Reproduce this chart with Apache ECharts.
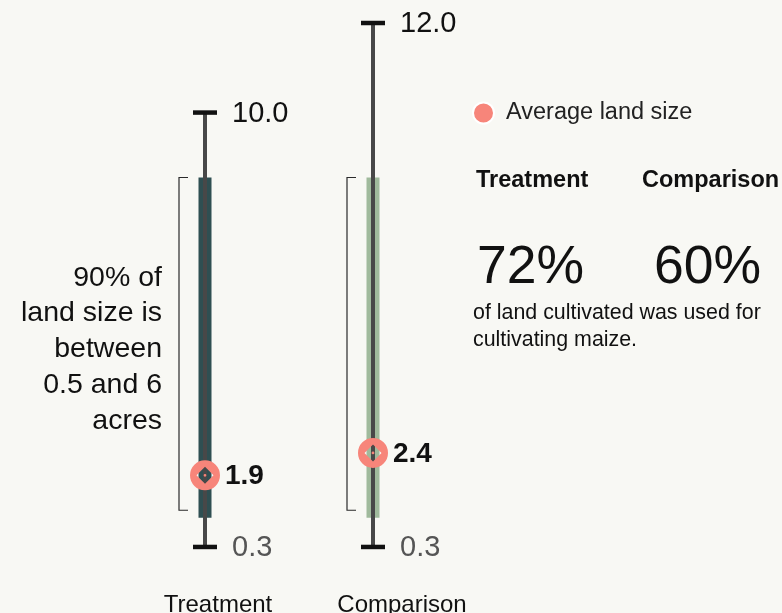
<!DOCTYPE html>
<html>
<head>
<meta charset="utf-8">
<script src="https://cdn.jsdelivr.net/npm/echarts@6/dist/echarts.min.js"></script>
<style>
html,body{margin:0;padding:0;background:#f8f8f4;}
#chart{width:782px;height:613px;}
</style>
</head>
<body>
<div id="chart"></div>
<script>
// ---- data ----
const categories = ['Treatment', 'Comparison'];
const rangeMin = [0.3, 0.3];
const rangeMax = [10.0, 12.0];
const band90Low = [0.95, 0.95];
const band90High = [8.55, 8.55];
const bracketLow = [1.12, 1.12];
const bracketHigh = [8.55, 8.55];
const averages = [1.9, 2.4];
const maizeShare = ['72%', '60%'];
const legendName = 'Average land size';
const noteText = '90% of\nland size is\nbetween\n0.5 and 6\nacres';
const maizeNote = 'of land cultivated was used for\ncultivating maize.';

// ---- styles ----
const barColors = ['#2f4f52', '#a0ba9c'];
const markerColor = '#f7857a';
const FONT = '"Liberation Sans", Arial, sans-serif';
// ring marker: circle with a diamond hole and a tiny centre dot
const ringSymbol = 'path://M0,-15A15,15 0 1,1 0,15A15,15 0 1,1 0,-15Z' +
  'M0,-8.5L-8.5,0L0,8.5L8.5,0Z' +
  'M0,-1.4A1.4,1.4 0 1,1 0,1.4A1.4,1.4 0 1,1 0,-1.4Z';

const rangeData = categories.map((c, i) => [i, rangeMin[i], rangeMax[i], band90Low[i], band90High[i], bracketLow[i], bracketHigh[i]]);
const avgData = categories.map((c, i) => [i, averages[i]]);

function renderRange(params, api) {
  const i = api.value(0);
  const pLo = api.coord([i, api.value(1)]);
  const x = pLo[0];
  const yLo = pLo[1];
  const yHi = api.coord([i, api.value(2)])[1];
  const yBLo = api.coord([i, api.value(3)])[1];
  const yBHi = api.coord([i, api.value(4)])[1];
  const yBrLo = api.coord([i, api.value(5)])[1];
  const yBrHi = api.coord([i, api.value(6)])[1];
  return {
    type: 'group',
    children: [
      { type: 'polyline', shape: { points: [[x - 17, yBrHi], [x - 26, yBrHi], [x - 26, yBrLo], [x - 17, yBrLo]] },
        style: { stroke: '#2a2a2a', lineWidth: 1.2, fill: null } },
      { type: 'rect', shape: { x: x - 6.5, y: yBHi, width: 13, height: yBLo - yBHi },
        style: { fill: barColors[i] } },
      { type: 'line', shape: { x1: x, y1: yHi, x2: x, y2: yLo },
        style: { stroke: '#484848', lineWidth: 4 } },
      { type: 'rect', shape: { x: x - 12, y: yHi - 2.25, width: 24, height: 4.5 }, style: { fill: '#111' } },
      { type: 'rect', shape: { x: x - 12, y: yLo - 2.25, width: 24, height: 4.5 }, style: { fill: '#111' } },
      { type: 'text', style: { text: api.value(2).toFixed(1), x: x + 27, y: yHi + 1, verticalAlign: 'middle', align: 'left',
        font: '29px ' + FONT, fill: '#111' } },
      { type: 'text', style: { text: api.value(1).toFixed(1), x: x + 27, y: yLo + 1, verticalAlign: 'middle', align: 'left',
        font: '29px ' + FONT, fill: '#555' } }
    ]
  };
}

const chart = echarts.init(document.getElementById('chart'));
chart.setOption({
  backgroundColor: '#f8f8f4',
  animation: false,
  grid: { left: 121, width: 336, top: 23, bottom: 52.6, containLabel: false, outerBoundsMode: 'none' },
  xAxis: {
    type: 'category',
    data: categories,
    axisLine: { show: false },
    axisTick: { show: false },
    axisLabel: {
      margin: 33,
      formatter: (v) => v === categories[0] ? '{t|' + v + '}' : '{c|' + v + '}',
      rich: {
        t: { fontSize: 24, fontFamily: FONT, color: '#111', padding: [0, 0, 0, 26] },
        c: { fontSize: 24, fontFamily: FONT, color: '#111', padding: [0, 0, 0, 58] }
      }
    }
  },
  yAxis: { type: 'value', min: 0, max: 12, show: false, splitLine: { show: false } },
  legend: {
    left: 472, top: 101, padding: 0,
    icon: 'circle',
    itemWidth: 21, itemHeight: 21,
    data: [{ name: legendName, itemStyle: { color: markerColor, borderColor: '#fff', borderWidth: 2 } }],
    textStyle: { fontSize: 23.5, fontFamily: FONT, color: '#222', padding: [0, 0, 0, 7] }
  },
  series: [
    { type: 'custom', renderItem: renderRange, data: rangeData, encode: { x: 0, y: [1, 2] }, z: 2, silent: true },
    {
      type: 'scatter', name: legendName, data: avgData, z: 5,
      symbol: ringSymbol, symbolSize: 30, symbolKeepAspect: true,
      itemStyle: { color: markerColor, opacity: 1 },
      label: { show: true, position: 'right', distance: 5, formatter: (p) => p.value[1].toFixed(1),
        fontSize: 28, fontWeight: 'bold', fontFamily: FONT, color: '#111', offset: [0, 1] }
    }
  ],
  graphic: [
    { type: 'text', style: { text: noteText, x: 162, y: 260, align: 'right', verticalAlign: 'top',
      lineHeight: 35.75, font: '28.5px ' + FONT, fill: '#111' } },
    { type: 'text', style: { text: categories[0], x: 476, y: 181, verticalAlign: 'middle', font: 'bold 23.5px ' + FONT, fill: '#111' } },
    { type: 'text', style: { text: categories[1], x: 642, y: 181, verticalAlign: 'middle', font: 'bold 23.5px ' + FONT, fill: '#111' } },
    { type: 'text', style: { text: maizeShare[0], x: 477, y: 268, verticalAlign: 'middle', font: '53.5px ' + FONT, fill: '#111' } },
    { type: 'text', style: { text: maizeShare[1], x: 654, y: 268, verticalAlign: 'middle', font: '53.5px ' + FONT, fill: '#111' } },
    { type: 'text', style: { text: maizeNote, x: 473, y: 300, verticalAlign: 'top', lineHeight: 27, font: '21.4px ' + FONT, fill: '#111' } }
  ]
});
</script>
</body>
</html>
